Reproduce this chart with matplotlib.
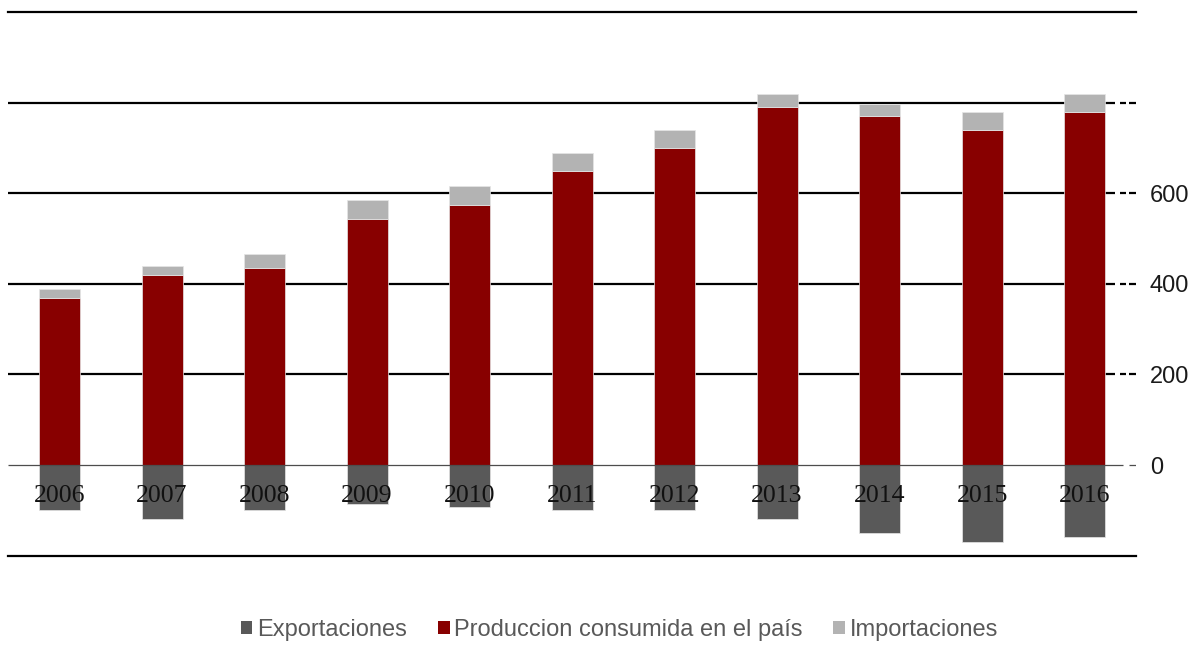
import matplotlib
matplotlib.use("Agg")
import matplotlib.pyplot as plt
from matplotlib.patches import Patch

# Data (volúmenes anuales)
years = ["2006", "2007", "2008", "2009", "2010", "2011",
         "2012", "2013", "2014", "2015", "2016"]
produccion = [369, 420, 435, 544, 575, 649, 700, 791, 771, 739, 779]
importaciones = [19, 20, 31, 40, 40, 39, 39, 28, 27, 40, 39]
exportaciones = [-100, -120, -100, -85, -92, -100, -100, -120, -150, -170, -160]

tick_values = [0, 200, 400, 600]
grid_values = [200, 400, 600, 800]

c_red = "#880000"
c_exp = "#595959"
c_imp = "#b3b3b3"

plt.rcParams["font.family"] = ["Liberation Sans", "DejaVu Sans"]

fig = plt.figure(figsize=(11.96, 6.45), dpi=100)
ax = fig.add_axes([0.0069, 0.1386, 0.9428, 0.8428])

x = list(range(len(years)))
w = 0.4

# horizontal reference lines with the short dashed tail on the right
for g in grid_values:
    ax.hlines(g, -0.5, 10.30, color="black", lw=1.6, zorder=1)
    ax.hlines(g, 10.345, 10.405, color="black", lw=1.6, zorder=1)
    ax.hlines(g, 10.435, 10.5, color="black", lw=1.6, zorder=1)

ax.bar(x, produccion, width=w, color=c_red, edgecolor="#e6e6e6", linewidth=0.5, zorder=2)
ax.bar(x, importaciones, width=w, bottom=produccion, color=c_imp,
       edgecolor="#e6e6e6", linewidth=0.5, zorder=2)
ax.bar(x, exportaciones, width=w, color=c_exp, edgecolor="#e6e6e6", linewidth=0.5, zorder=2)

# zero line
ax.hlines(0, -0.5, 10.37, color="#4d4d4d", lw=0.9, zorder=3)
ax.hlines(0, 10.435, 10.5, color="#4d4d4d", lw=0.9, zorder=3)

# year labels sitting over the export bars
for xi, yr in zip(x, years):
    ax.text(xi, -68, yr, ha="center", va="center", fontsize=18.5,
            family=["Liberation Serif", "DejaVu Serif"], color="#111111", zorder=4)

ax.set_xlim(-0.5, 10.5)
ax.set_ylim(-200, 1000)
ax.set_xticks([])
ax.yaxis.tick_right()
ax.set_yticks(tick_values)
ax.set_yticklabels([str(v) for v in tick_values])
ax.tick_params(axis="y", length=0, pad=10, labelsize=17, labelcolor="#1a1a1a")

for side in ["left", "right"]:
    ax.spines[side].set_visible(False)
for side in ["top", "bottom"]:
    ax.spines[side].set_color("black")
    ax.spines[side].set_linewidth(1.6)

handles = [Patch(facecolor=c_exp, label="Exportaciones"),
           Patch(facecolor=c_red, label="Produccion consumida en el país"),
           Patch(facecolor=c_imp, label="Importaciones")]
fig.legend(handles=handles, loc="center", bbox_to_anchor=(0.518, 0.0233), ncol=3,
           frameon=False, fontsize=17, handlelength=0.5, handleheight=0.5,
           handletextpad=0.2, columnspacing=1.3, labelcolor="#595959")

fig.savefig("out.png", dpi=100)
